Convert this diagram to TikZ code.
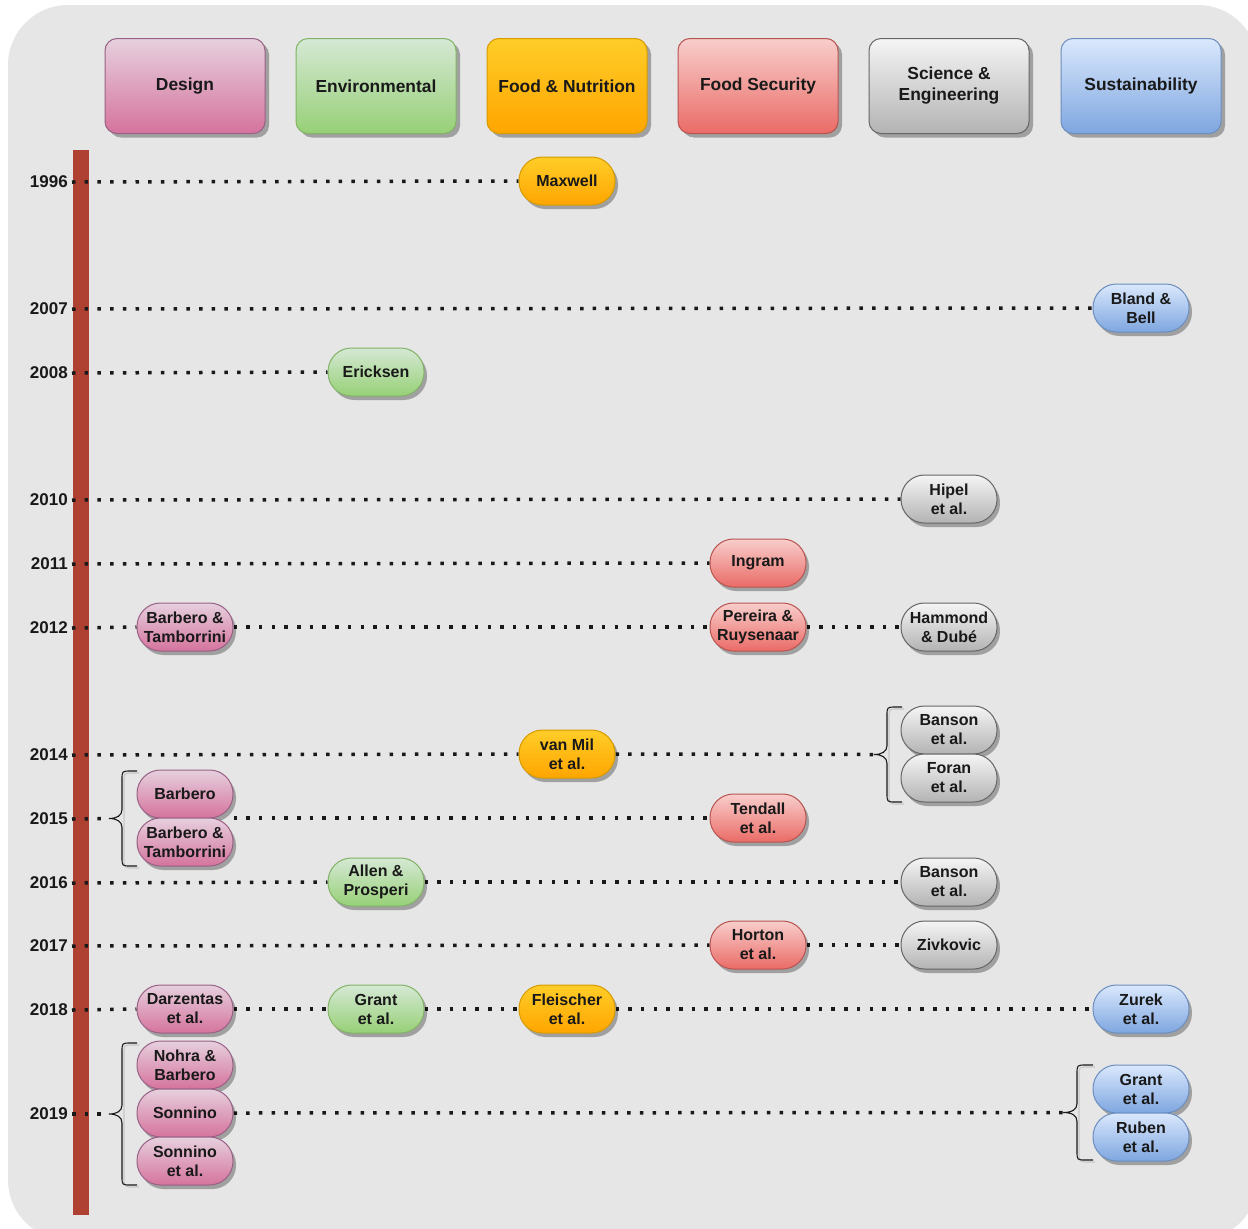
\documentclass[tikz,border=0pt]{standalone}
\usepackage{fontspec}
\setmainfont{Liberation Sans}
\usetikzlibrary{shadows}
\definecolor{bgc}{HTML}{E6E6E6}
\definecolor{barc}{HTML}{AE4132}
\definecolor{desT}{HTML}{E6D0DE}\definecolor{desB}{HTML}{D5739D}\definecolor{desS}{HTML}{996185}
\definecolor{envT}{HTML}{D5E8D4}\definecolor{envB}{HTML}{97D077}\definecolor{envS}{HTML}{82B366}
\definecolor{fnT}{HTML}{FFCD28}\definecolor{fnB}{HTML}{FFA500}\definecolor{fnS}{HTML}{D79B00}
\definecolor{fsT}{HTML}{F8CECC}\definecolor{fsB}{HTML}{EA6B66}\definecolor{fsS}{HTML}{B85450}
\definecolor{seT}{HTML}{F5F5F5}\definecolor{seB}{HTML}{B3B3B3}\definecolor{seS}{HTML}{666666}
\definecolor{suT}{HTML}{DAE8FC}\definecolor{suB}{HTML}{7EA6E0}\definecolor{suS}{HTML}{6C8EBF}
\pgfdeclarelayer{bg}\pgfdeclarelayer{lines}\pgfsetlayers{bg,lines,main}
% #1 name, #2 tip x, #3 spine x, #4 right x, #5 top y, #6 bottom y
\newcommand\mybrace[6]{%
  \coordinate (#1) at (#2,{(#5+#6)/2});
  \draw[braceshadow] ({#4+2},{#5+2}) -- ({#3+11},{#5+2}) .. controls ({#3+2},{#5+2}) .. ({#3+2},{#5+11}) -- ({#3+2},{#6-9}) .. controls ({#3+2},{#6+2}) .. ({#3+11},{#6+2}) -- ({#4+2},{#6+2});
  \draw[bracestyle] (#4,#5) -- ({#3+9},#5) .. controls (#3,#5) .. (#3,{#5+9})
    -- (#3,{(#5+#6)/2-9}) .. controls (#3,{(#5+#6)/2-3}) and ({#3-5},{(#5+#6)/2}) .. (#2,{(#5+#6)/2})
    .. controls ({#3-5},{(#5+#6)/2}) and (#3,{(#5+#6)/2+3}) .. (#3,{(#5+#6)/2+9})
    -- (#3,{#6-9}) .. controls (#3,#6) .. ({#3+9},#6) -- (#4,#6);
}
\begin{document}
\begin{tikzpicture}[x=1pt,y=-1pt,
  hdr/.style={rectangle, rounded corners=12pt, minimum width=160pt, minimum height=95pt, inner sep=0pt, align=center,
    font=\fontsize{17.4}{21}\selectfont\bfseries, text=black!90, line width=1pt,
    drop shadow={shadow xshift=4pt, shadow yshift=-4pt, fill=black, opacity=.3}},
  pill/.style={rectangle, rounded corners=23.5pt, minimum width=96pt, minimum height=48pt, inner sep=0pt, align=center,
    font=\fontsize{16}{19}\selectfont\bfseries, text=black!90, line width=1pt,
    drop shadow={shadow xshift=3pt, shadow yshift=-4pt, fill=black, opacity=.3}},
  des/.style={top color=desT, bottom color=desB, draw=desS},
  env/.style={top color=envT, bottom color=envB, draw=envS},
  fn/.style={top color=fnT, bottom color=fnB, draw=fnS},
  fs/.style={top color=fsT, bottom color=fsB, draw=fsS},
  se/.style={top color=seT, bottom color=seB, draw=seS},
  su/.style={top color=suT, bottom color=suB, draw=suS},
  yr/.style={anchor=east, inner sep=0pt, font=\fontsize{17}{19}\selectfont\bfseries, text=black!90},
  dots/.style={line width=3.5pt, dash pattern=on 3.5pt off 9.2pt, black!90},
  bracestyle/.style={line width=1.1pt, black!90},
  braceshadow/.style={line width=1.1pt, black!22}
]
\useasboundingbox (0,0) rectangle (1248,1229);
\begin{pgfonlayer}{bg}
  \fill[bgc, rounded corners=60pt] (8,5) rectangle (1258,1240);
  \fill[barc] (73,150) rectangle (89,1215);
\end{pgfonlayer}

% headers
\node[hdr,des] (hD) at (185,86) {Design};
\node[hdr,env] (hE) at (376,86) {Environmental};
\node[hdr,fn] (hF) at (567,86) {Food \& Nutrition};
\node[hdr,fs] (hS) at (758,86) {Food Security};
\node[hdr,se] (hC) at (949,86) {Science \&\\Engineering};
\node[hdr,su] (hU) at (1141,86) {Sustainability};

% years
\foreach \yy/\pos in {1996/182,2007/309,2008/373,2010/500,2011/564,2012/628,2014/755,2015/819,2016/883,2017/946,2018/1010,2019/1114}
  \node[yr] (y\yy) at (68,\pos) {\yy};

% entries
\node[pill,fn] (maxwell) at (567,181) {Maxwell};
\node[pill,su] (bland) at (1141,308) {Bland \&\\Bell};
\node[pill,env] (ericksen) at (376,372) {Ericksen};
\node[pill,se] (hipel) at (949,499) {Hipel\\et al.};
\node[pill,fs] (ingram) at (758,563) {Ingram};
\node[pill,des] (barbtam12) at (185,627) {Barbero \&\\Tamborrini};
\node[pill,fs] (pereira) at (758,627) {Pereira \&\\Ruysenaar};
\node[pill,se] (hammond) at (949,627) {Hammond\\\& Dubé};
\node[pill,fn] (vanmil) at (567,754) {van Mil\\et al.};
\node[pill,se] (banson14) at (949,730) {Banson\\et al.};
\node[pill,se] (foran) at (949,778) {Foran\\et al.};
\node[pill,des] (barbero15) at (185,794) {Barbero};
\node[pill,des] (barbtam15) at (185,842) {Barbero \&\\Tamborrini};
\node[pill,fs] (tendall) at (758,818) {Tendall\\et al.};
\node[pill,env] (allen) at (376,882) {Allen \&\\Prosperi};
\node[pill,se] (banson16) at (949,882) {Banson\\et al.};
\node[pill,fs] (horton) at (758,945) {Horton\\et al.};
\node[pill,se] (zivkovic) at (949,945) {Zivkovic};
\node[pill,des] (darzentas) at (185,1009) {Darzentas\\et al.};
\node[pill,env] (grant18) at (376,1009) {Grant\\et al.};
\node[pill,fn] (fleischer) at (567,1009) {Fleischer\\et al.};
\node[pill,su] (zurek) at (1141,1009) {Zurek\\et al.};
\node[pill,des] (nohra) at (185,1065) {Nohra \&\\Barbero};
\node[pill,des] (sonnino) at (185,1113) {Sonnino};
\node[pill,des] (sonninoet) at (185,1161) {Sonnino\\et al.};
\node[pill,su] (grant19) at (1141,1089) {Grant\\et al.};
\node[pill,su] (ruben) at (1141,1137) {Ruben\\et al.};

% braces
\mybrace{b14}{874}{887}{902}{707}{802}
\mybrace{b15}{109}{122}{137}{771}{866}
\mybrace{b19}{109}{122}{137}{1043}{1185}
\mybrace{b19r}{1063}{1077}{1093}{1065}{1160}

% dotted connectors
\begin{pgfonlayer}{lines}
  \draw[dots] ([xshift=4pt]y1996.east) -- (maxwell.west);
  \draw[dots] ([xshift=4pt]y2007.east) -- (bland.west);
  \draw[dots] ([xshift=4pt]y2008.east) -- (ericksen.west);
  \draw[dots] ([xshift=4pt]y2010.east) -- (hipel.west);
  \draw[dots] ([xshift=4pt]y2011.east) -- (ingram.west);
  \draw[dots] ([xshift=4pt]y2012.east) -- (barbtam12.west);
  \draw[dots] (barbtam12.east) -- (pereira.west);
  \draw[dots] (pereira.east) -- (hammond.west);
  \draw[dots] ([xshift=4pt]y2014.east) -- (vanmil.west);
  \draw[dots] (vanmil.east) -- (b14);
  \draw[dots] ([xshift=4pt]y2015.east) -- (b15);
  \draw[dots] (barbtam15.east |- tendall.west) -- (tendall.west);
  \draw[dots] ([xshift=4pt]y2016.east) -- (allen.west);
  \draw[dots] (allen.east) -- (banson16.west);
  \draw[dots] ([xshift=4pt]y2017.east) -- (horton.west);
  \draw[dots] (horton.east) -- (zivkovic.west);
  \draw[dots] ([xshift=4pt]y2018.east) -- (darzentas.west);
  \draw[dots] (darzentas.east) -- (grant18.west);
  \draw[dots] (grant18.east) -- (fleischer.west);
  \draw[dots] (fleischer.east) -- (zurek.west);
  \draw[dots] ([xshift=4pt]y2019.east) -- (b19);
  \draw[dots] (sonnino.east) -- (b19r);
\end{pgfonlayer}
\end{tikzpicture}
\end{document}
